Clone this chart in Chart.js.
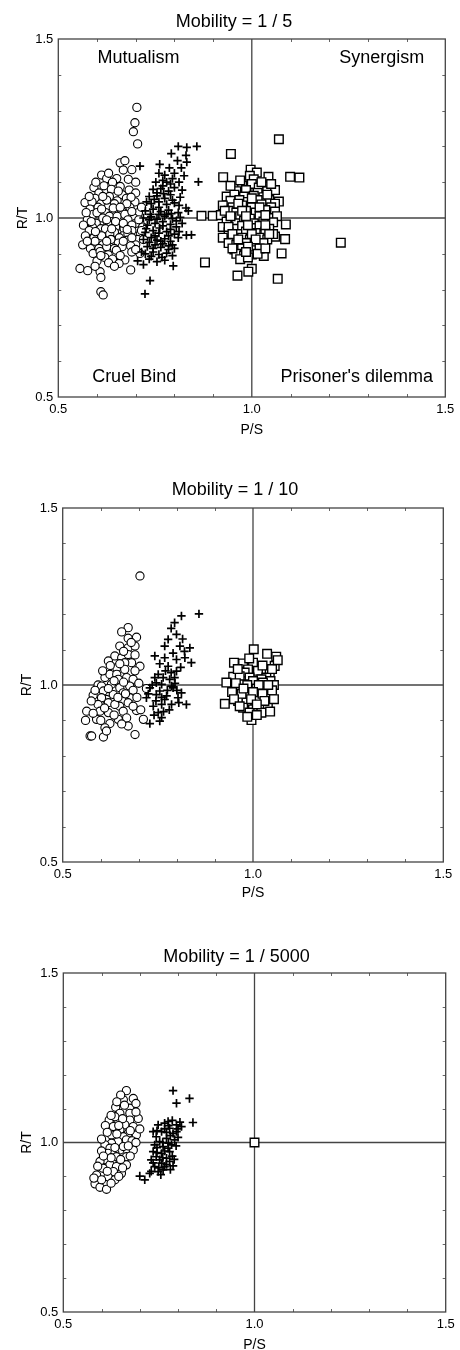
<!DOCTYPE html>
<html><head><meta charset="utf-8">
<script src="https://cdn.jsdelivr.net/npm/chart.js@4.4.0/dist/chart.umd.min.js"></script>
<style>
html,body{margin:0;padding:0;background:#fff;}
body{width:460px;height:1350px;position:relative;overflow:hidden;}
canvas{position:absolute;left:0;display:block;}
</style></head><body>
<canvas id="c1" width="460" height="440" style="top:0px"></canvas>
<canvas id="c2" width="460" height="470" style="top:440px"></canvas>
<canvas id="c3" width="460" height="440" style="top:910px"></canvas>
<script>
// ---------- text / ticks ----------
const panelTitles = ['Mobility = 1 / 5', 'Mobility = 1 / 10', 'Mobility = 1 / 5000'];
const xAxisTitle = 'P/S';
const yAxisTitle = 'R/T';
const axisMin = 0.5, axisMax = 1.5, majorStep = 0.5;
const minorTickValues = [0.6, 0.7, 0.8, 0.9, 1.1, 1.2, 1.3, 1.4];
const referenceValue = 1.0;
const quadrantNames = ['Mutualism', 'Synergism', 'Cruel Bind', "Prisoner's dilemma"];

// ---------- data: [P/S, R/T] ----------
const p1Circles = [
[0.703,1.309],[0.698,1.266],[0.694,1.241],[0.705,1.207],
[0.660,1.154],[0.672,1.160],[0.668,1.134],[0.690,1.135],
[0.612,1.120],[0.625,1.110],[0.651,1.110],[0.681,1.108],[0.640,1.100],[0.700,1.100],
[0.592,1.085],[0.618,1.090],[0.637,1.080],[0.660,1.088],[0.683,1.078],[0.700,1.070],[0.605,1.070],[0.665,1.065],
[0.569,1.043],[0.595,1.055],[0.610,1.040],[0.632,1.060],[0.652,1.048],[0.676,1.055],[0.698,1.045],[0.625,1.050],[0.645,1.040],[0.688,1.058],[0.587,1.045],
[0.582,1.025],[0.603,1.030],[0.622,1.015],[0.642,1.028],[0.664,1.018],[0.685,1.030],[0.707,1.015],[0.590,1.010],[0.715,1.030],
[0.600,1.015],[0.632,1.005],[0.652,1.005],[0.672,1.010],[0.695,1.000],
[0.575,0.995],[0.598,0.985],[0.615,1.000],[0.636,0.990],[0.658,0.978],[0.680,0.995],[0.700,0.985],[0.565,0.980],[0.718,0.975],
[0.588,0.975],[0.610,0.970],[0.628,0.985],[0.648,0.975],[0.670,0.970],[0.690,0.980],
[0.580,0.965],[0.602,0.955],[0.622,0.970],[0.645,0.960],[0.667,0.950],[0.690,0.965],[0.712,0.955],
[0.570,0.950],[0.592,0.945],[0.612,0.950],[0.633,0.955],[0.658,0.945],[0.680,0.955],[0.705,0.940],[0.720,0.940],
[0.595,0.935],[0.615,0.925],[0.636,0.940],[0.655,0.930],[0.678,0.938],[0.700,0.925],[0.563,0.925],
[0.605,0.915],[0.625,0.920],[0.645,0.915],[0.665,0.920],[0.687,0.922],[0.583,0.915],
[0.590,0.901],[0.608,0.906],[0.629,0.897],[0.650,0.910],[0.672,0.883],[0.711,0.901],[0.690,0.905],
[0.620,0.890],[0.640,0.885],[0.600,0.880],[0.630,0.875],[0.657,0.873],[0.687,0.855],
[0.556,0.859],[0.576,0.853],[0.608,0.850],[0.610,0.834],[0.610,0.794],[0.616,0.785],
[0.597,1.100],[0.630,1.125],[0.615,1.060],[0.655,1.075],[0.677,1.040],[0.572,1.015],[0.612,1.025],[0.660,1.030],
[0.690,1.018],[0.585,0.990],[0.625,0.995],[0.648,0.990],[0.668,0.985],[0.708,0.995],[0.596,0.962],[0.638,0.970],
[0.678,0.968],[0.575,0.935],[0.625,0.935],[0.668,0.935],[0.690,0.945],[0.610,0.895],[0.660,0.895],[0.700,0.912],
[0.645,0.865],[0.595,0.865],[0.715,0.965],[0.580,1.060]
];
const p1Crosses = [
[0.810,1.200],[0.832,1.197],[0.858,1.200],[0.792,1.180],[0.830,1.175],[0.808,1.160],[0.832,1.156],
[0.711,1.145],[0.762,1.150],[0.787,1.140],[0.775,1.120],[0.800,1.125],[0.825,1.118],
[0.752,1.100],[0.770,1.105],[0.790,1.095],[0.812,1.100],[0.862,1.101],
[0.745,1.080],[0.765,1.082],[0.785,1.075],[0.800,1.085],[0.820,1.078],
[0.735,1.060],[0.755,1.062],[0.775,1.055],[0.790,1.065],[0.815,1.058],
[0.740,1.040],[0.760,1.045],[0.780,1.038],[0.800,1.042],[0.836,1.020],
[0.725,1.020],[0.745,1.025],[0.765,1.018],[0.785,1.022],[0.810,1.015],[0.830,1.028],
[0.720,1.000],[0.740,1.003],[0.755,0.997],[0.775,1.005],[0.795,0.998],[0.815,1.002],
[0.730,0.980],[0.750,0.985],[0.770,0.978],[0.790,0.982],[0.805,0.975],[0.820,0.985],
[0.725,0.960],[0.745,0.965],[0.760,0.958],[0.780,0.962],[0.800,0.955],[0.831,0.952],[0.844,0.953],
[0.720,0.940],[0.740,0.945],[0.755,0.938],[0.775,0.942],[0.790,0.935],[0.810,0.945],
[0.730,0.920],[0.750,0.925],[0.765,0.918],[0.785,0.922],[0.800,0.915],
[0.725,0.900],[0.745,0.905],[0.760,0.898],[0.780,0.902],[0.795,0.895],
[0.705,0.880],[0.735,0.885],[0.755,0.878],[0.775,0.882],[0.720,0.870],[0.797,0.866],
[0.737,0.825],[0.724,0.788],
[0.760,1.030],[0.770,0.990],[0.750,0.950],[0.765,0.935],[0.780,1.010],[0.735,0.995],[0.790,0.968],[0.755,1.070],[0.770,1.090],[0.745,0.915],
[0.728,1.045],[0.748,1.052],[0.772,1.068],[0.795,1.050],[0.812,1.035],[0.738,1.010],[0.760,1.010],[0.792,1.012],
[0.805,0.992],[0.727,0.970],[0.762,0.972],[0.785,0.950],[0.812,0.962],[0.735,0.932],[0.770,0.928],[0.795,0.925],
[0.740,0.893],[0.768,0.890],[0.785,0.912],[0.715,0.905],[0.780,1.100],[0.795,1.110],[0.760,1.125],[0.818,1.140]
];
const p1Squares = [
[1.070,1.220],[0.946,1.179],[0.926,1.114],[1.099,1.115],[1.123,1.113],[0.870,1.006],[0.899,1.006],[0.879,0.876],
[1.230,0.931],[0.963,0.839],[1.000,0.858],[0.991,0.850],[1.067,0.830],[1.077,0.901],[1.086,0.941],[1.088,0.982],[1.060,0.948],[1.031,0.894],
[0.997,1.135],[1.013,1.127],[1.043,1.115],[0.995,1.118],[1.005,1.108],
[0.975,1.090],[1.000,1.095],[1.034,1.088],[1.018,1.085],
[0.960,1.075],[0.985,1.078],[1.015,1.070],[1.040,1.075],[1.060,1.078],
[0.935,1.060],[0.955,1.065],[0.980,1.060],[1.005,1.062],[1.030,1.058],[1.070,1.046],
[0.945,1.048],[0.968,1.050],[0.990,1.045],[1.015,1.050],[1.045,1.050],[1.060,1.040],
[0.925,1.035],[0.950,1.030],[0.975,1.035],[1.000,1.030],[1.025,1.038],[1.050,1.030],
[0.940,1.020],[0.960,1.015],[0.985,1.020],[1.010,1.015],[1.035,1.022],[1.060,1.018],
[0.920,1.008],[0.950,1.000],[0.970,1.005],[0.995,0.998],[1.020,1.005],[1.045,1.000],[1.065,1.005],
[0.935,0.990],[0.960,0.985],[0.980,0.992],[1.005,0.985],[1.030,0.990],[1.055,0.988],
[0.925,0.975],[0.955,0.970],[0.975,0.978],[1.000,0.972],[1.020,0.978],[1.045,0.970],
[0.940,0.960],[0.965,0.955],[0.985,0.962],[1.010,0.958],[1.035,0.962],[1.055,0.955],
[0.925,0.945],[0.950,0.940],[0.975,0.945],[0.995,0.940],[1.020,0.945],[1.040,0.940],
[0.940,0.930],[0.960,0.925],[0.985,0.930],[1.010,0.925],[1.030,0.930],
[0.955,0.912],[0.975,0.915],[1.000,0.910],[1.020,0.915],
[0.960,0.900],[0.980,0.895],[1.000,0.898],[1.015,0.900],
[0.970,0.885],[0.990,0.890],
[0.970,1.105],[1.025,1.100],[0.945,1.090],[1.050,1.095],[0.965,1.040],[1.000,1.055],[1.040,1.065],[0.930,1.020],
[0.975,1.020],[1.020,1.030],[0.945,1.005],[0.985,1.005],[1.035,1.008],[0.940,0.975],[0.990,0.980],[1.035,0.980],
[0.950,0.955],[1.000,0.955],[1.045,0.955],[0.965,0.940],[1.010,0.940],[0.950,0.915],[0.990,0.920],[1.035,0.915],[0.985,0.905]
];

const p2Circles = [
[0.703,1.308],[0.672,1.162],[0.694,1.135],[0.672,1.132],[0.650,1.110],[0.672,1.105],[0.690,1.110],
[0.637,1.082],[0.655,1.077],[0.672,1.086],[0.620,1.068],[0.681,1.063],[0.663,1.063],[0.703,1.053],[0.642,1.049],[0.663,1.044],
[0.611,1.021],[0.624,1.030],[0.642,1.030],[0.646,1.016],[0.668,1.021],[0.685,1.016],
[0.593,1.000],[0.602,0.997],[0.628,1.002],[0.650,0.992],[0.676,0.997],[0.720,0.990],
[0.580,0.971],[0.607,0.983],[0.633,0.973],[0.659,0.978],[0.685,0.985],[0.615,0.959],[0.676,0.964],[0.602,0.964],
[0.593,0.945],[0.620,0.950],[0.650,0.940],[0.672,0.950],[0.637,0.945],
[0.694,0.928],[0.598,0.926],[0.563,0.926],[0.620,0.922],[0.659,0.926],
[0.589,0.903],[0.646,0.903],[0.668,0.907],[0.712,0.903],[0.624,0.891],[0.672,0.884],[0.611,0.879],
[0.572,0.856],[0.576,0.856],[0.607,0.853],[0.690,0.860],
[0.655,1.150],[0.680,1.120],[0.660,1.095],[0.690,1.085],[0.625,1.055],[0.650,1.060],[0.690,1.040],[0.605,1.040],
[0.635,1.012],[0.660,1.008],[0.700,1.005],[0.585,0.985],[0.620,0.990],[0.645,0.965],[0.665,0.975],[0.695,0.965],
[0.575,0.955],[0.610,0.935],[0.685,0.940],[0.580,0.920],[0.635,0.915],[0.600,0.900],[0.655,0.890],[0.615,0.870],
[0.705,0.930],[0.560,0.900]
];
const p2Crosses = [
[0.858,1.201],[0.812,1.195],[0.794,1.176],[0.799,1.143],[0.777,1.129],[0.768,1.110],[0.808,1.110],[0.834,1.105],
[0.742,1.082],[0.768,1.077],[0.799,1.072],[0.821,1.077],[0.838,1.063],[0.777,1.053],[0.799,1.039],
[0.751,1.030],[0.742,1.021],[0.781,1.016],[0.764,1.021],[0.794,1.021],[0.746,1.006],[0.760,1.002],
[0.729,0.992],[0.790,0.992],[0.786,0.997],[0.755,0.983],[0.812,0.978],[0.746,0.973],[0.773,0.969],[0.803,0.964],
[0.720,0.964],[0.768,0.959],[0.738,0.940],[0.760,0.945],[0.786,0.945],[0.825,0.945],
[0.751,0.922],[0.760,0.908],[0.729,0.891],[0.755,0.898],
[0.785,1.160],[0.815,1.130],[0.790,1.090],[0.820,1.095],[0.755,1.060],[0.785,1.035],[0.810,1.050],[0.770,1.040],
[0.735,1.000],[0.775,0.985],[0.800,0.985],[0.760,0.965],[0.745,0.955],[0.780,0.930],[0.740,0.915],[0.805,0.950],
[0.765,0.925],[0.725,0.975],[0.795,1.005]
];
const p2Squares = [
[1.002,1.101],[1.037,1.088],[1.061,1.080],[0.950,1.063],[0.974,1.061],[1.000,1.063],[1.057,1.054],
[0.987,1.044],[1.013,1.040],[1.044,1.035],[0.978,1.035],[1.035,1.021],
[0.948,1.023],[0.965,1.025],[0.991,1.021],[1.022,1.016],[1.046,1.011],
[0.930,1.007],[0.974,1.002],[1.000,1.011],[1.026,1.007],
[0.956,0.988],[0.983,0.985],[1.009,0.990],[1.035,0.983],
[0.965,0.969],[0.991,0.974],[1.018,0.964],[1.039,0.969],[0.961,0.955],
[0.983,0.950],[1.009,0.955],[1.035,0.941],[0.926,0.947],
[0.974,0.936],[1.000,0.931],[1.026,0.936],[1.039,0.938],
[0.991,0.922],[1.022,0.922],[0.996,0.901],
[0.960,1.045],[0.990,1.075],[1.025,1.055],[1.050,1.045],[1.065,1.070],[0.955,1.005],[0.985,1.000],[1.015,1.000],
[1.055,1.000],[0.945,0.980],[0.970,0.975],[1.000,0.980],[1.025,0.975],[1.050,0.985],[0.950,0.960],[0.995,0.960],
[1.030,0.955],[1.055,0.960],[0.965,0.940],[1.010,0.945],[1.045,0.925],[0.985,0.910],[1.010,0.915],[0.975,0.990],[1.040,1.000]
];

const p3Circles = [
[0.665,1.153],[0.657,1.126],[0.683,1.130],[0.674,1.101],[0.637,1.104],[0.648,1.086],[0.674,1.086],[0.696,1.071],
[0.620,1.066],[0.643,1.066],[0.635,1.076],[0.674,1.066],[0.661,1.052],[0.631,1.047],[0.683,1.047],[0.648,1.037],
[0.626,1.022],[0.670,1.027],[0.691,1.022],[0.657,1.017],[0.643,1.003],[0.665,1.008],[0.626,0.998],
[0.609,0.993],[0.622,0.983],[0.648,0.978],[0.683,0.978],[0.657,0.988],
[0.617,0.968],[0.635,0.968],[0.639,0.958],[0.665,0.958],[0.609,0.949],
[0.596,0.944],[0.622,0.934],[0.648,0.939],[0.665,0.934],[0.639,0.929],
[0.604,0.924],[0.631,0.914],[0.652,0.909],[0.587,0.904],[0.617,0.899],[0.635,0.890],
[0.583,0.878],[0.596,0.868],[0.613,0.862],
[0.650,1.140],[0.690,1.115],[0.640,1.120],[0.660,1.110],[0.625,1.080],[0.690,1.090],[0.655,1.070],[0.610,1.050],
[0.645,1.050],[0.675,1.035],[0.615,1.030],[0.640,1.025],[0.680,1.005],[0.600,1.010],[0.635,0.985],[0.670,0.990],
[0.600,0.975],[0.625,0.955],[0.650,0.950],[0.675,0.960],[0.590,0.930],[0.615,0.915],[0.655,0.925],[0.600,0.890],
[0.625,0.880],[0.645,0.900],[0.580,0.895],[0.690,1.000],[0.700,1.040],[0.605,0.960]
];
const p3Crosses = [
[0.787,1.153],[0.830,1.130],[0.796,1.116],[0.839,1.059],
[0.748,1.052],[0.774,1.062],[0.796,1.052],[0.809,1.047],[0.765,1.057],
[0.757,1.032],[0.778,1.042],[0.787,1.027],[0.796,1.032],[0.735,1.032],
[0.743,1.017],[0.770,1.012],[0.791,1.008],[0.752,1.003],
[0.739,0.993],[0.761,0.988],[0.783,0.993],[0.774,0.983],
[0.735,0.973],[0.757,0.968],[0.778,0.973],[0.743,0.958],
[0.730,0.949],[0.752,0.949],[0.770,0.954],[0.778,0.944],[0.757,0.939],
[0.739,0.929],[0.765,0.929],[0.787,0.931],[0.748,0.914],[0.761,0.919],
[0.700,0.901],[0.713,0.890],[0.726,0.909],
[0.775,1.050],[0.785,1.065],[0.800,1.040],[0.765,1.040],[0.745,1.035],[0.780,1.020],[0.800,1.015],[0.760,1.000],
[0.775,0.998],[0.795,0.990],[0.745,0.985],[0.785,0.960],[0.765,0.975],[0.745,0.970],[0.760,0.955],[0.790,0.950],
[0.735,0.940],[0.770,0.935],[0.750,0.925],[0.780,0.920],[0.730,0.915],[0.755,0.905],[0.770,1.030],[0.805,1.060]
];
const p3Squares = [[1.000,1.000]];

// ---------- layout of the three panels ----------
const panelSeries = [
  [p1Circles, p1Crosses, p1Squares],
  [p2Circles, p2Crosses, p2Squares],
  [p3Circles, p3Crosses, p3Squares]
];
const panelLayouts = [
  {padL:22.7, padR:14.7, yW:35.6, xH:43, tTop:11.2, tBot:6.2, yTitlePad:-8.1, xTitleBot:1.6, quadrants:true},
  {padL:26.7, padR:16.7, yW:36,   xH:48, tTop:39.2, tBot:7.2, yTitlePad:-8.1, xTitleBot:8.6, quadrants:false},
  {padL:27.3, padR:14.3, yW:36,   xH:38, tTop:36.2, tBot:5.2, yTitlePad:-8.7, xTitleBot:-3.4, quadrants:false}
];
const quadrantAnchors = [[0.707,1.446],[1.336,1.446],[0.696,0.556],[1.271,0.556]];

Chart.defaults.font.family = "'Liberation Sans', Arial, sans-serif";
Chart.defaults.color = '#000';

const framePlugin = {
  id: 'frameAndRefs',
  beforeDatasetsDraw(chart, args, opts) {
    const {ctx, chartArea: a, scales: {x, y}} = chart;
    ctx.save();
    const seg = (x1, y1, x2, y2) => { ctx.beginPath(); ctx.moveTo(x1, y1); ctx.lineTo(x2, y2); ctx.stroke(); };
    ctx.strokeStyle = '#666'; ctx.lineWidth = 1;
    minorTickValues.forEach(v => {
      const px = Math.round(x.getPixelForValue(v)) + 0.5;
      seg(px, a.top, px, a.top + 3); seg(px, a.bottom, px, a.bottom - 3);
      const py = Math.round(y.getPixelForValue(v)) + 0.5;
      seg(a.left, py, a.left + 3, py); seg(a.right, py, a.right - 3, py);
    });
    ctx.strokeStyle = '#444'; ctx.lineWidth = 1.3;
    const rx = x.getPixelForValue(referenceValue), ry = y.getPixelForValue(referenceValue);
    seg(rx, a.top, rx, a.bottom);
    seg(a.left, ry, a.right, ry);
    ctx.strokeRect(a.left, a.top, a.right - a.left, a.bottom - a.top);
    if (opts.quadrants) {
      ctx.fillStyle = '#000';
      ctx.font = "18px 'Liberation Sans', Arial, sans-serif";
      ctx.textAlign = 'center'; ctx.textBaseline = 'middle';
      quadrantNames.forEach((t, i) => {
        ctx.fillText(t, x.getPixelForValue(quadrantAnchors[i][0]), y.getPixelForValue(quadrantAnchors[i][1]));
      });
    }
    ctx.restore();
  }
};

const toPts = arr => arr.map(p => ({x: p[0], y: p[1]}));

['c1', 'c2', 'c3'].forEach((id, i) => {
  const L = panelLayouts[i];
  const [circ, cross, sq] = panelSeries[i];
  new Chart(document.getElementById(id), {
    type: 'scatter',
    data: {
      datasets: [
        {label: 'cross', data: toPts(cross), pointStyle: 'cross', pointRadius: 4.2, pointBorderWidth: 1.7,
         pointBorderColor: '#000', pointBackgroundColor: '#000'},
        {label: 'circle', data: toPts(circ), pointStyle: 'circle', pointRadius: 4.1, pointBorderWidth: 1.1,
         pointBorderColor: '#000', pointBackgroundColor: '#fff'},
        {label: 'square', data: toPts(sq), pointStyle: 'rect', pointRadius: 6.1, pointBorderWidth: 1.4,
         pointBorderColor: '#000', pointBackgroundColor: '#fff'}
      ]
    },
    options: {
      responsive: false,
      animation: false,
      events: [],
      layout: {padding: {left: L.padL, right: L.padR, top: 0, bottom: 0}},
      plugins: {
        legend: {display: false},
        tooltip: {enabled: false},
        title: {display: true, text: panelTitles[i], font: {size: 18, weight: 'normal'}, color: '#000',
                padding: {top: L.tTop, bottom: L.tBot}},
        frameAndRefs: {quadrants: L.quadrants}
      },
      scales: {
        x: {
          type: 'linear', min: axisMin, max: axisMax,
          grid: {display: false, drawTicks: false, tickLength: 0}, border: {display: false},
          ticks: {stepSize: majorStep, padding: 5, font: {size: 13}, color: '#000',
                  callback: v => Number(v).toFixed(1)},
          title: {display: true, text: xAxisTitle, font: {size: 14}, color: '#000', padding: {top: 0, bottom: L.xTitleBot}},
          afterFit: s => { s.height = L.xH; }
        },
        y: {
          type: 'linear', min: axisMin, max: axisMax,
          grid: {display: false, drawTicks: false, tickLength: 0}, border: {display: false},
          ticks: {stepSize: majorStep, padding: 5, font: {size: 13}, color: '#000',
                  callback: v => Number(v).toFixed(1)},
          title: {display: true, text: yAxisTitle, font: {size: 14}, color: '#000', padding: {top: L.yTitlePad, bottom: 0}},
          afterFit: s => { s.width = L.yW; }
        }
      }
    },
    plugins: [framePlugin]
  });
});
</script>
</body></html>
